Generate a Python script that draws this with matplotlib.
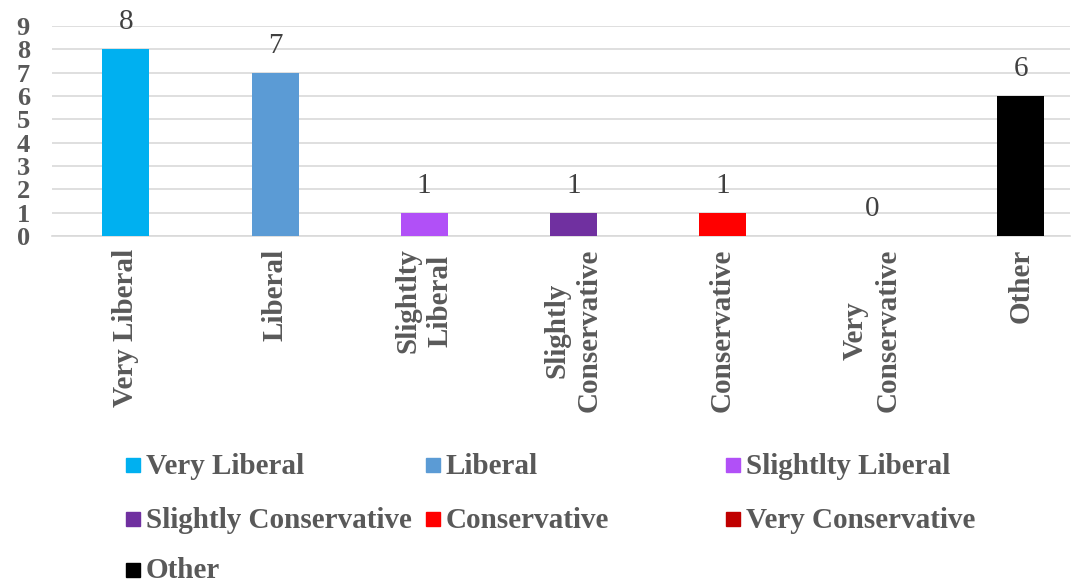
import matplotlib.pyplot as plt
from matplotlib.patches import Rectangle

# Data
categories = ['Very Liberal', 'Liberal', 'Slightlty\nLiberal', 'Slightly\nConservative',
              'Conservative', 'Very\nConservative', 'Other']
legend_names = ['Very Liberal', 'Liberal', 'Slightlty Liberal', 'Slightly Conservative',
                'Conservative', 'Very Conservative', 'Other']
counts = [8, 7, 1, 1, 1, 0, 6]
colors = ['#00B0F0', '#5B9BD5', '#B150F7', '#7030A0', '#FF0000', '#C00000', '#000000']

plt.rcParams['font.family'] = ['Liberation Serif', 'DejaVu Serif']
txt_col = '#595959'

fig = plt.figure(figsize=(10.91, 5.83), dpi=100)
# axes box in pixels: left 52, right 1070, top 26 (y=9), bottom 236 (y=0)
W, H = 1091, 583
ax = fig.add_axes([52 / W, 1 - 236 / H, (1070 - 52) / W, (236 - 26) / H])

x = list(range(len(categories)))
bars = ax.bar(x, counts, width=0.315, color=colors, zorder=3)

for xi, v in zip(x, counts):
    ax.annotate(str(v), (xi, v), xytext=(0, 10), textcoords='offset points',
                ha='center', va='bottom', fontsize=21, color='#404040')

ax.set_xlim(-0.496, 6.33)
ax.set_ylim(0, 9)
ax.set_yticks(range(10))
ax.set_yticklabels([str(i) for i in range(10)], fontsize=19, fontweight='bold', color=txt_col)
ax.yaxis.grid(True, color='#D9D9D9', linewidth=1.2, zorder=0)
ax.set_axisbelow(True)
ax.tick_params(axis='both', length=0)
ax.tick_params(axis='y', pad=16)
ax.set_xticks(x)
ax.set_xticklabels(categories, rotation=90, fontsize=21, fontweight='bold', color=txt_col,
                   linespacing=1.25, multialignment='center')
ax.tick_params(axis='x', pad=9)
for s in ['top', 'right', 'left']:
    ax.spines[s].set_visible(False)
ax.spines['bottom'].set_color('#D9D9D9')
ax.spines['bottom'].set_linewidth(1.2)

# legend laid out like Excel: 3 equal columns
col_x = [126, 426, 726]
row_y = [465, 519, 570]
for i, (name, c) in enumerate(zip(legend_names, colors)):
    cx = col_x[i % 3]
    cy = row_y[i // 3]
    fig.patches.append(Rectangle((cx / W, 1 - (cy + 7) / H), 14 / W, 14 / H,
                                 color=c, transform=fig.transFigure, figure=fig))
    fig.text((cx + 20) / W, 1 - (cy + 1) / H, name, ha='left', va='center', fontsize=21,
             fontweight='bold', color=txt_col)

fig.savefig('out.png', dpi=100)
